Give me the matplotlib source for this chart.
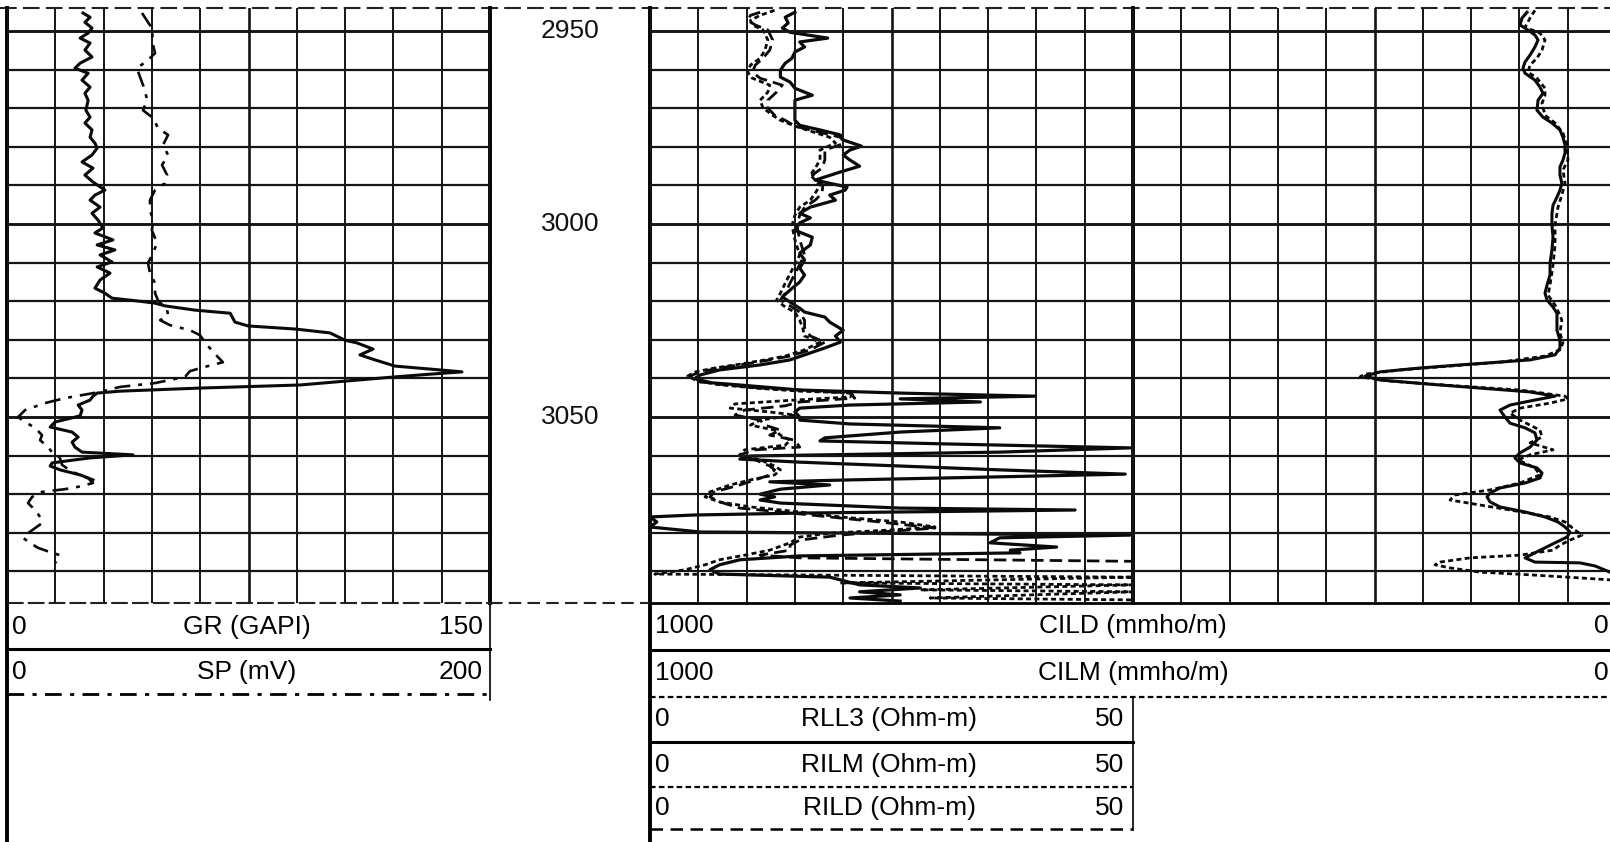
import matplotlib
matplotlib.use("Agg")
import matplotlib.pyplot as plt

plt.rcParams['font.family'] = ['Liberation Sans', 'DejaVu Sans']

# ---------------- data ----------------
depth_top = 2944.0
depth_bottom = 3098.2
depth_labels = [2950, 3000, 3050]
grid_depths = list(range(2950, 3100, 10))

gr_depth = [2945.3, 2946.4, 2947.7, 2949.2, 2950.5, 2951.8, 2953.1, 2954.9, 2956.7, 2958.3,
            2959.6, 2960.9, 2962.7, 2964.5, 2966.1, 2967.9, 2970.5, 2972.3, 2973.8, 2975.6,
            2977.5, 2979.0, 2980.3, 2982.1, 2983.9, 2985.5, 2987.3, 2989.1, 2991.2, 2992.5,
            2993.8, 2995.6, 2997.2, 2999.0, 3001.0, 3002.3, 3004.1, 3005.4, 3006.7, 3008.0,
            3009.8, 3011.1, 3012.7, 3014.5, 3016.6, 3017.9, 3019.2, 3020.0, 3020.5, 3021.2,
            3022.3, 3023.1, 3025.4, 3026.4, 3027.2, 3028.2, 3030.1, 3030.8, 3032.4, 3033.9,
            3035.2, 3036.8, 3037.8, 3038.3, 3038.9, 3039.6, 3040.7, 3041.7, 3042.5, 3043.3,
            3043.8, 3044.6, 3045.6, 3046.9, 3048.2, 3049.7, 3051.3, 3052.6, 3053.9, 3055.2,
            3056.5, 3057.8, 3059.1, 3059.8, 3060.6, 3061.1, 3061.9, 3062.7, 3063.7, 3065.0,
            3066.3]
gr_value = [23.6, 25.8, 24.2, 26.4, 25.2, 22.7, 25.8, 24.2, 26.4, 22.7,
            21.1, 25.2, 23.3, 25.8, 24.2, 25.2, 24.5, 25.8, 24.2, 26.4,
            25.8, 27.3, 28.0, 26.4, 23.3, 26.7, 24.2, 26.7, 30.4, 27.3,
            25.8, 28.9, 26.4, 28.3, 29.8, 27.3, 32.9, 28.0, 33.5, 28.9,
            32.6, 28.0, 32.0, 28.9, 27.3, 30.4, 32.6, 41.3, 46.0, 49.1,
            58.4, 69.3, 70.8, 74.9, 89.5, 100.3, 105.0, 108.7, 113.7, 109.6,
            114.3, 120.5, 134.5, 141.3, 131.4, 120.5, 105.0, 91.0, 59.9, 35.1,
            28.0, 26.7, 25.8, 22.1, 23.3, 22.7, 14.9, 13.4, 20.2, 22.1,
            20.2, 21.1, 23.3, 39.1, 25.8, 21.1, 14.0, 13.4, 16.5, 22.7,
            26.7]

sp_depth = [2945.3, 2947.7, 2949.7, 2952.3, 2955.7, 2957.5, 2959.6, 2961.9, 2965.3, 2967.9,
            2970.5, 2972.5, 2975.1, 2976.9, 2979.5, 2982.1, 2984.7, 2987.3, 2989.4, 2991.2,
            2993.8, 2996.4, 2999.0, 3001.6, 3004.9, 3007.5, 3010.1, 3012.7, 3015.3, 3017.9,
            3019.7, 3022.3, 3023.6, 3024.9, 3026.2, 3027.5, 3028.8, 3031.3, 3034.5, 3035.8,
            3037.0, 3038.1, 3039.6, 3041.2, 3042.2, 3043.5, 3045.1, 3046.4, 3048.2, 3050.0,
            3051.3, 3052.8, 3054.7, 3056.0, 3057.8, 3059.1, 3060.6, 3062.4, 3064.2, 3065.8,
            3067.1, 3068.1, 3068.7, 3069.4, 3070.7, 3072.3, 3074.1, 3075.9, 3077.5, 3078.8,
            3080.1, 3081.3, 3082.6, 3083.9, 3085.0, 3085.8, 3087.0, 3087.8]
sp_value = [55.9, 58.4, 60.5, 60.0, 61.3, 58.4, 53.8, 55.1, 57.1, 58.0,
            56.3, 60.5, 62.5, 66.7, 64.6, 66.7, 64.2, 66.3, 65.4, 61.3,
            59.2, 59.2, 60.5, 60.0, 62.1, 60.5, 58.4, 59.2, 61.3, 61.3,
            62.5, 66.3, 66.7, 63.4, 67.5, 75.8, 79.9, 82.8, 87.4, 89.4,
            82.0, 75.8, 73.7, 61.3, 46.8, 38.5, 24.0, 15.7, 7.5, 4.6,
            7.5, 11.6, 14.5, 13.7, 17.0, 18.6, 21.9, 22.8, 26.9, 33.5,
            35.6, 29.4, 24.0, 14.5, 10.4, 8.7, 11.6, 13.7, 14.5, 11.6,
            8.7, 6.6, 9.5, 12.8, 17.8, 21.9, 21.1, 19.9]

rll3_depth = [2945.1, 2946.4, 2947.9, 2949.2, 2950.3, 2951.8, 2952.8, 2954.1, 2955.4, 2957.0,
              2958.3, 2960.1, 2961.9, 2963.2, 2964.8, 2966.6, 2967.9, 2970.5, 2973.1, 2974.4,
              2975.6, 2976.9, 2978.2, 2979.8, 2980.8, 2982.1, 2983.4, 2985.0, 2986.5, 2988.6,
              2990.4, 2991.2, 2992.5, 2993.8, 2995.6, 2997.2, 2998.4, 2999.7, 3001.6, 3003.4,
              3005.4, 3007.5, 3009.3, 3011.4, 3013.2, 3015.0, 3017.1, 3018.9, 3020.2, 3021.8,
              3022.8, 3024.1, 3025.4, 3027.5, 3029.0, 3030.6, 3032.1, 3033.9, 3035.2, 3036.5,
              3037.8, 3039.1, 3039.9, 3040.9, 3041.7, 3043.0, 3043.8, 3044.6, 3045.3, 3046.1,
              3046.9, 3047.7, 3048.7, 3050.0, 3050.8, 3051.8, 3052.8, 3053.9, 3055.4, 3056.2,
              3057.0, 3058.0, 3059.1, 3060.1, 3060.9, 3061.7, 3062.7, 3063.7, 3064.8, 3065.5,
              3066.3, 3066.8, 3067.6, 3068.7, 3070.0, 3070.7, 3071.5, 3072.3, 3073.6, 3074.1,
              3074.9, 3075.4, 3075.9, 3077.2, 3078.5, 3079.8, 3080.6, 3081.3, 3082.6, 3083.7,
              3084.5, 3085.2, 3086.0, 3087.0, 3088.3, 3089.6, 3090.7, 3091.5, 3092.2, 3093.5,
              3094.3, 3095.3, 3096.1, 3096.9, 3097.7]
rll3_value = [15.0, 14.0, 14.3, 13.7, 14.5, 18.4, 15.5, 16.0, 15.0, 14.7,
              14.0, 13.5, 13.5, 14.5, 15.0, 16.8, 15.0, 15.0, 15.0, 15.5,
              17.6, 19.7, 20.0, 21.9, 20.7, 20.0, 20.7, 21.7, 19.7, 17.1,
              20.4, 20.2, 18.6, 19.2, 16.6, 15.5, 16.6, 15.5, 15.0, 16.8,
              16.6, 15.5, 16.0, 15.5, 16.0, 15.5, 14.5, 13.7, 14.5, 15.5,
              16.0, 18.1, 18.6, 20.0, 19.2, 19.7, 18.1, 16.0, 14.5, 11.4,
              7.2, 5.2, 4.7, 5.2, 9.3, 15.5, 25.9, 39.9, 25.9, 34.2,
              20.7, 15.5, 15.0, 15.5, 15.5, 20.7, 36.2, 25.9, 18.1, 17.6,
              31.1, 49.7, 36.2, 10.4, 9.3, 15.5, 25.9, 36.2, 49.2, 36.2,
              20.7, 12.4, 18.6, 13.5, 11.4, 12.9, 11.4, 13.5, 25.9, 44.0,
              15.5, 4.5, 0.0, 0.7, 0.0, 5.2, 49.7, 36.2, 35.2, 42.1,
              37.3, 38.3, 15.5, 9.3, 7.2, 6.2, 7.2, 18.6, 19.7, 21.7,
              28.0, 21.7, 25.9, 20.7, 25.9]

rilm_depth = [2944.6, 2945.9, 2947.2, 2948.4, 2949.7, 2952.3, 2954.9, 2957.0, 2958.8, 2960.6,
              2962.2, 2964.0, 2965.8, 2967.9, 2969.9, 2971.8, 2973.1, 2974.6, 2975.9, 2977.5,
              2979.0, 2980.8, 2983.4, 2985.5, 2987.3, 2989.9, 2992.0, 2993.8, 2995.6, 2997.7,
              3000.3, 3004.1, 3008.0, 3011.9, 3015.3, 3017.9, 3019.7, 3021.5, 3022.8, 3024.9,
              3026.9, 3029.0, 3030.6, 3032.6, 3034.2, 3035.2, 3036.3, 3037.3, 3038.3, 3039.4,
              3040.4, 3041.5, 3042.5, 3043.3, 3043.8, 3044.8, 3045.6, 3046.6, 3047.7, 3048.7,
              3049.5, 3050.8, 3052.1, 3053.4, 3054.7, 3056.0, 3057.3, 3058.5, 3059.8, 3061.1,
              3062.7, 3063.7, 3065.0, 3066.3, 3067.6, 3069.4, 3070.7, 3072.0, 3073.3, 3074.6,
              3075.9, 3077.2, 3078.5, 3079.3, 3080.1, 3081.1, 3082.6, 3084.5, 3085.8, 3087.0,
              3088.3, 3089.6, 3090.7, 3091.5, 3093.0, 3093.5, 3094.8, 3095.3, 3096.9, 3097.4]
rilm_value = [12.9, 11.4, 10.4, 10.6, 11.7, 12.2, 11.9, 11.4, 10.4, 10.1,
              10.6, 12.4, 12.2, 11.4, 11.7, 12.7, 13.5, 15.0, 16.6, 18.6,
              19.2, 17.6, 17.6, 17.1, 16.6, 17.6, 17.1, 16.6, 15.5, 15.0,
              14.7, 15.0, 15.5, 14.7, 14.0, 13.5, 13.1, 14.0, 15.0, 15.5,
              15.8, 16.0, 17.6, 16.0, 14.0, 11.9, 9.3, 6.7, 4.7, 3.9,
              4.7, 6.7, 10.9, 15.5, 21.2, 20.7, 15.0, 8.8, 8.3, 12.4,
              15.0, 11.4, 10.4, 12.9, 13.5, 14.5, 14.0, 9.8, 9.3, 11.4,
              12.9, 13.5, 12.9, 10.4, 8.3, 6.2, 5.7, 7.2, 10.4, 15.5,
              19.7, 25.9, 29.5, 24.8, 18.6, 15.5, 14.5, 12.4, 9.8, 7.2,
              5.7, 3.6, 0.5, 50.0, 19.7, 50.0, 28.0, 50.0, 29.0, 50.0]

rild_depth = [2945.1, 2945.9, 2947.2, 2948.4, 2949.7, 2952.3, 2954.9, 2957.0, 2958.8, 2960.6,
              2962.2, 2964.0, 2965.8, 2967.9, 2969.9, 2971.8, 2973.1, 2974.6, 2975.9, 2977.5,
              2979.0, 2980.8, 2983.4, 2985.5, 2987.3, 2989.9, 2992.0, 2993.8, 2995.6, 2997.7,
              3000.3, 3004.1, 3008.0, 3011.9, 3015.3, 3017.9, 3019.7, 3021.5, 3022.8, 3024.9,
              3026.9, 3029.0, 3030.6, 3032.6, 3034.2, 3035.2, 3036.3, 3037.3, 3038.3, 3039.4,
              3040.4, 3041.5, 3042.5, 3043.0, 3043.8, 3045.1, 3046.1, 3047.1, 3048.2, 3049.5,
              3050.8, 3052.1, 3053.4, 3054.7, 3056.0, 3057.8, 3058.5, 3059.8, 3061.1, 3062.7,
              3063.7, 3065.0, 3066.3, 3067.6, 3069.4, 3070.7, 3072.0, 3073.6, 3074.6, 3075.9,
              3077.2, 3078.8, 3079.8, 3080.6, 3081.9, 3083.2, 3084.5, 3085.8, 3086.5, 3087.4]
rild_value = [11.4, 10.4, 10.1, 10.9, 12.2, 12.7, 12.4, 11.7, 10.9, 10.6,
              11.4, 13.7, 13.1, 12.2, 12.2, 12.9, 14.0, 15.0, 17.1, 19.7,
              20.2, 18.1, 18.1, 17.8, 16.8, 17.9, 17.8, 17.1, 16.0, 15.5,
              15.2, 15.5, 16.0, 15.2, 14.5, 14.0, 13.5, 14.7, 15.5, 16.0,
              16.0, 16.6, 18.1, 16.6, 14.5, 12.4, 9.8, 7.2, 5.2, 4.1,
              5.2, 7.2, 11.4, 15.5, 20.7, 21.2, 15.5, 14.0, 9.8, 8.8,
              11.4, 11.9, 13.5, 12.4, 15.0, 15.5, 10.9, 9.3, 10.9, 12.4,
              12.9, 12.4, 10.9, 9.3, 6.7, 6.2, 7.2, 9.3, 13.5, 18.6,
              23.8, 29.5, 23.8, 19.7, 15.5, 14.5, 14.5, 11.4, 15.5, 50.0]

cild_depth = [2945.1, 2946.6, 2948.4, 2949.7, 2951.0, 2952.3, 2954.1, 2956.2, 2958.0, 2959.6,
              2960.9, 2962.7, 2964.5, 2966.1, 2967.9, 2970.5, 2972.3, 2973.8, 2975.6, 2977.5,
              2979.5, 2981.6, 2983.4, 2985.2, 2987.3, 2989.4, 2991.2, 2993.0, 2995.1, 2997.2,
              3000.3, 3003.4, 3006.7, 3010.1, 3013.2, 3015.8, 3017.9, 3019.7, 3021.5, 3023.1,
              3024.9, 3027.5, 3030.1, 3032.1, 3033.9, 3035.2, 3036.5, 3037.3, 3038.3, 3039.4,
              3040.4, 3041.5, 3042.5, 3043.5, 3044.6, 3045.6, 3046.9, 3048.2, 3050.0, 3051.6,
              3052.8, 3054.1, 3056.0, 3057.8, 3059.3, 3060.6, 3061.9, 3063.2, 3064.5, 3065.8,
              3067.1, 3068.4, 3069.7, 3070.7, 3072.0, 3073.3, 3074.6, 3075.9, 3077.2, 3078.5,
              3079.8, 3081.1, 3082.6, 3083.9, 3085.2, 3086.5, 3087.6, 3087.8, 3088.6, 3090.2]
cild_value = [92.1, 97.3, 99.4, 91.1, 83.9, 80.7, 83.9, 89.0, 94.2, 96.3,
              94.2, 83.9, 78.7, 75.6, 80.7, 81.8, 75.6, 66.3, 58.0, 54.9,
              52.8, 52.8, 54.9, 58.0, 58.0, 56.1, 58.0, 61.1, 65.2, 66.3,
              66.3, 65.2, 66.3, 68.3, 68.3, 71.4, 73.5, 71.4, 65.2, 61.1,
              61.1, 61.1, 58.0, 58.0, 63.1, 89.0, 161.5, 202.9, 244.3, 259.8,
              244.3, 192.5, 140.8, 89.0, 63.1, 83.9, 109.7, 120.1, 114.9, 109.7,
              94.2, 83.9, 81.8, 89.0, 99.4, 104.6, 99.4, 81.8, 76.6, 78.7,
              94.2, 120.1, 130.4, 133.5, 130.4, 120.1, 94.2, 73.5, 60.0, 52.8,
              47.6, 50.7, 63.1, 73.5, 83.9, 94.2, 83.9, 37.3, 21.7, 6.2]

cilm_depth = [2944.6, 2946.6, 2949.0, 2950.5, 2952.3, 2954.9, 2957.0, 2958.8, 2960.6, 2962.2,
              2964.8, 2966.6, 2968.7, 2971.8, 2973.8, 2976.4, 2979.5, 2983.4, 2986.0, 2989.4,
              2992.5, 2995.6, 3000.3, 3005.4, 3010.6, 3015.8, 3018.4, 3021.0, 3023.6, 3024.9,
              3028.2, 3030.8, 3032.6, 3034.2, 3035.8, 3036.8, 3037.8, 3038.9, 3039.6, 3040.7,
              3042.0, 3043.0, 3044.6, 3045.3, 3046.4, 3047.7, 3049.0, 3050.8, 3053.4, 3055.2,
              3056.7, 3058.5, 3059.8, 3061.1, 3063.2, 3065.0, 3067.1, 3068.9, 3070.2, 3071.5,
              3072.8, 3074.1, 3075.9, 3077.2, 3079.3, 3080.6, 3081.9, 3083.2, 3084.5, 3085.8,
              3086.5, 3087.6, 3088.3, 3089.1, 3090.2, 3090.9, 3091.7, 3092.2]
cilm_value = [83.9, 89.0, 94.2, 78.7, 73.5, 76.6, 81.8, 89.0, 91.1, 81.8,
              73.5, 73.5, 76.6, 73.5, 63.1, 54.9, 50.7, 49.7, 54.9, 52.8,
              56.1, 60.0, 63.1, 63.1, 65.2, 68.3, 70.4, 63.1, 58.0, 56.1,
              58.0, 54.9, 58.0, 73.5, 120.1, 171.8, 223.6, 259.8, 265.0, 233.9,
              161.5, 99.4, 52.8, 49.7, 68.3, 99.4, 109.7, 99.4, 78.7, 76.6,
              89.0, 65.2, 89.0, 101.4, 83.9, 78.7, 99.4, 130.4, 166.7, 171.8,
              140.8, 109.7, 68.3, 52.8, 42.4, 35.2, 47.6, 58.0, 65.2, 99.4,
              151.1, 182.2, 187.4, 171.8, 140.8, 89.0, 37.3, 6.2]

gr_scale = (0, 150)
sp_scale = (0, 200)
res_scale = (0, 50)
cond_scale = (1000, 0)

left_headers = [("0", "GR (GAPI)", "150"), ("0", "SP (mV)", "200")]
cond_headers = [("1000", "CILD (mmho/m)", "0"), ("1000", "CILM (mmho/m)", "0")]
res_headers = [("0", "RLL3 (Ohm-m)", "50"), ("0", "RILM (Ohm-m)", "50"), ("0", "RILD (Ohm-m)", "50")]

# ---------------- layout ----------------
W, H = 1610, 842
FS = 19
fig = plt.figure(figsize=(W / 100, H / 100), dpi=100)
fig.patch.set_facecolor('white')

TOP, BOT = 8, 603
L0, L1 = 7, 490
D1 = 650
R1 = 1133
C1 = 1616

def rect(x0, x1):
    return [x0 / W, 1 - BOT / H, (x1 - x0) / W, (BOT - TOP) / H]

bg = fig.add_axes([0, 0, 1, 1])
bg.set_xlim(0, W)
bg.set_ylim(H, 0)
bg.axis('off')

ax_gr = fig.add_axes(rect(L0, L1))
ax_d = fig.add_axes(rect(L1, D1))
ax_r = fig.add_axes(rect(D1, R1))
ax_c = fig.add_axes(rect(D1, C1))

for ax in (ax_gr, ax_d, ax_r, ax_c):
    ax.set_ylim(depth_bottom, depth_top)
    ax.set_facecolor('none')
    ax.set_xticks([])
    ax.set_yticks([])
    for s in ax.spines.values():
        s.set_visible(False)

ax_gr.set_xlim(*gr_scale)
ax_sp = ax_gr.twiny()
ax_sp.set_xlim(*sp_scale)
ax_sp.set_ylim(depth_bottom, depth_top)
ax_sp.set_xticks([])
for s in ax_sp.spines.values():
    s.set_visible(False)
ax_r.set_xlim(*res_scale)
ax_c.set_xlim(*cond_scale)
ax_d.set_xlim(0, 1)

GRID = '#151515'
# grid: left track
for i in range(11):
    v = gr_scale[0] + i * (gr_scale[1] - gr_scale[0]) / 10
    ax_gr.axvline(v, color=GRID, lw=1.9 if i == 5 else 1.4, zorder=1)
for d in grid_depths:
    heavy = d % 50 == 0
    ax_gr.axhline(d, color=GRID, lw=2.1 if heavy else 1.6, zorder=1)
    ax_c.axhline(d, color=GRID, lw=2.1 if heavy else 1.6, zorder=1)
# grid: right track
for i in range(21):
    v = 1000 - i * 50
    ax_c.axvline(v, color=GRID, lw=1.9 if i in (5, 15) else 1.4, zorder=1)

# depth labels
for d in depth_labels:
    ax_d.text(0.5, d, str(d), ha='center', va='center', fontsize=FS, color='#111')

# curves
K = '#0a0a0a'
ax_gr.plot(gr_value, gr_depth, color=K, lw=2.2, zorder=3)
ax_sp.plot(sp_value, sp_depth, color=K, lw=1.9, ls=(0, (6, 3, 1.5, 3)), zorder=3)
ax_r.plot(rll3_value, rll3_depth, color=K, lw=2.3, zorder=3)
ax_r.plot(rilm_value, rilm_depth, color=K, lw=2.0, ls=(0, (1.8, 1.2)), zorder=3)
ax_r.plot(rild_value, rild_depth, color=K, lw=2.0, ls=(0, (4.5, 2.2)), zorder=3)
ax_c.plot(cild_value, cild_depth, color=K, lw=2.2, zorder=3)
ax_c.plot(cilm_value, cilm_depth, color=K, lw=2.0, ls=(0, (1.8, 1.2)), zorder=3)

# frame lines (overlay)
bg.plot([0, W], [TOP, TOP], color='#222', lw=1.5, ls=(0, (8, 3)))
for x, y0, y1 in [(L0, TOP, H), (L1, TOP, BOT), (D1, TOP, H), (R1, TOP, BOT)]:
    bg.plot([x, x], [y0, y1], color='k', lw=2.8)
bg.plot([L1, L1], [BOT, 700], color='k', lw=1.2)
bg.plot([R1, R1], [697, 830], color='k', lw=1.2)
bg.plot([L0, 500], [BOT, BOT], color='#222', lw=1.5, ls=(0, (8, 2)))
bg.plot([L1, D1], [BOT, BOT], color='#222', lw=1.5, ls=(0, (6, 3)))
bg.plot([D1, W], [BOT, BOT], color='k', lw=2.0)

# left header
bg.plot([L0, L1], [649, 649], color='k', lw=2.2)
bg.plot([L0, L1], [694, 694], color='k', lw=2.0, ls=(0, (6, 3, 1.5, 3)))
for (lo, name, hi), yc in zip(left_headers, [627, 672]):
    bg.text(12, yc, lo, ha='left', va='center', fontsize=FS)
    bg.text(247, yc, name, ha='center', va='center', fontsize=FS)
    bg.text(483, yc, hi, ha='right', va='center', fontsize=FS)

# right header (conductivity)
bg.plot([D1, W], [650, 650], color='k', lw=2.2)
bg.plot([D1, W], [697, 697], color='k', lw=1.6, ls=(0, (2.5, 1.5)))
for (lo, name, hi), yc in zip(cond_headers, [626, 673]):
    bg.text(655, yc, lo, ha='left', va='center', fontsize=FS)
    bg.text(1133, yc, name, ha='center', va='center', fontsize=FS)
    bg.text(1609, yc, hi, ha='right', va='center', fontsize=FS)

# right header (resistivity)
bg.plot([D1, R1], [742, 742], color='k', lw=2.2)
bg.plot([D1, R1], [787, 787], color='k', lw=1.6, ls=(0, (2.5, 1.5)))
bg.plot([D1, R1], [829, 829], color='k', lw=1.8, ls=(0, (5, 3)))
for (lo, name, hi), yc in zip(res_headers, [719, 765, 808]):
    bg.text(655, yc, lo, ha='left', va='center', fontsize=FS)
    bg.text(889, yc, name, ha='center', va='center', fontsize=FS)
    bg.text(1124, yc, hi, ha='right', va='center', fontsize=FS)

fig.savefig('out.png', dpi=100, facecolor='white')
